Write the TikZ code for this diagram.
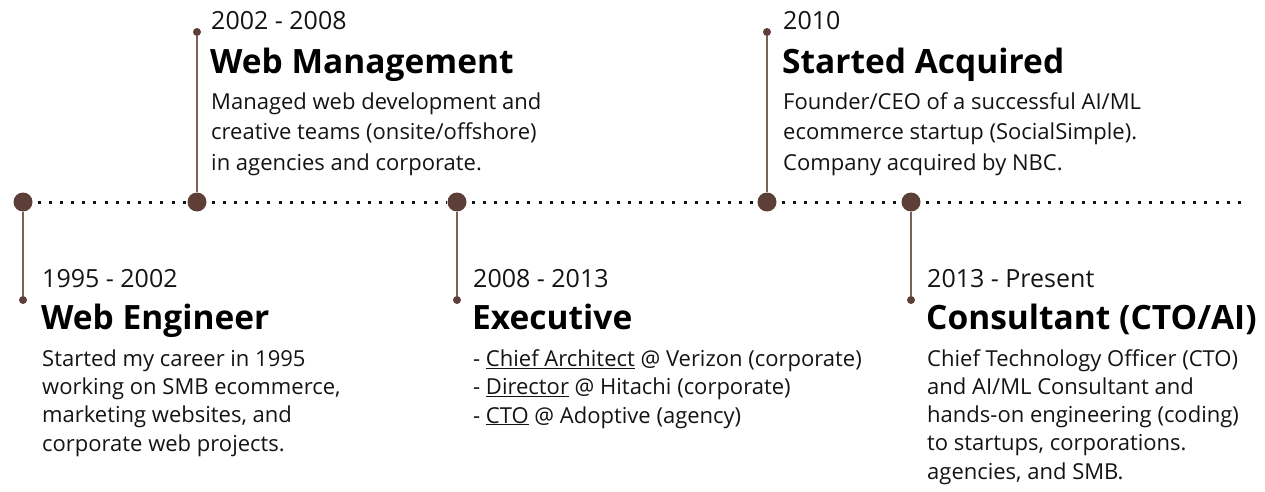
\documentclass[tikz,border=0pt]{standalone}
\usepackage{fontspec}
\setmainfont{Open Sans}
\definecolor{TLbrown}{RGB}{93,63,55}
\definecolor{TLstembrown}{RGB}{126,96,90}
\definecolor{TLink}{RGB}{20,20,20}
\tikzstyle{TLdot}=[circle, fill=TLbrown, inner sep=0pt, minimum size=19pt]
\tikzstyle{TLend}=[circle, fill=TLbrown, inner sep=0pt, minimum size=8pt]
\tikzstyle{TLstem}=[draw=TLstembrown, line width=2pt]
\tikzstyle{TLdots}=[draw=TLink, line width=3pt, dash pattern=on 3pt off 8.15pt, dash phase=-5pt]
\tikzstyle{TLdate}=[anchor=base west, inner sep=0pt, text=TLink, font=\fontsize{25}{30}\selectfont]
\tikzstyle{TLtitle}=[anchor=base west, inner sep=0pt, text=black, font=\fontsize{33.5}{40}\selectfont\bfseries]
% body nodes sit on the baseline of their last line
\tikzstyle{TLbody}=[anchor=base west, inner sep=0pt, align=left, text=TLink, font=\fontsize{22}{28.2}\selectfont]
\tikzstyle{TLbodytop}=[TLbody, font=\fontsize{22}{30.5}\selectfont]

\begin{document}
\begin{tikzpicture}[x=1pt, y=-1pt]
    \path [use as bounding box, fill=white] (0,0) rectangle (1265,492);
    % dots on the line
    \node [TLdot] (d1) at (23,202) {};
    \node [TLdot] (d2) at (197,202) {};
    \node [TLdot] (d3) at (457,202) {};
    \node [TLdot] (d4) at (767,202) {};
    \node [TLdot] (d5) at (911,202) {};
    \coordinate (lineend) at (1242,202);
    \foreach \a/\b in {d1/d2, d2/d3, d3/d4, d4/d5, d5/lineend}
        \draw [TLdots] (\a) -- (\b);
    % stem ends
    \node [TLend] (e1) at (23,300) {};
    \node [TLend] (e2) at (197,32) {};
    \node [TLend] (e3) at (457,300) {};
    \node [TLend] (e4) at (767,32) {};
    \node [TLend] (e5) at (911,300) {};
    \foreach \n in {1,...,5}
        \draw [TLstem] (d\n) -- (e\n);
    % 1995 - 2002
    \node [TLdate] (date1) at (42,287) {1995 - 2002};
    \node [TLtitle] (title1) at (41,329) {Web Engineer};
    \node [TLbody] (body1) at (42,451) {Started my career in 1995\\working on SMB ecommerce,\\marketing websites, and\\corporate web projects.};
    % 2002 - 2008
    \node [TLdate] (date2) at (211,30) {2002 - 2008};
    \node [TLtitle] (title2) at (210,74) {Web Management};
    \node [TLbodytop] (body2) at (211,170) {Managed web development and\\creative teams (onsite/offshore)\\in agencies and corporate.};
    % 2008 - 2013
    \node [TLdate] (date3) at (473,287) {2008 - 2013};
    \node [TLtitle] (title3) at (472,329) {Executive};
    \node [TLbody] (body3) at (473,423) {- \underline{Chief Architect} @ Verizon (corporate)\\- \underline{Director} @ Hitachi (corporate)\\- \underline{CTO} @ Adoptive (agency)};
    % 2010
    \node [TLdate] (date4) at (783,30) {2010};
    \node [TLtitle] (title4) at (782,74) {Started Acquired};
    \node [TLbodytop] (body4) at (783,170) {Founder/CEO of a successful AI/ML\\ecommerce startup (SocialSimple).\\Company acquired by NBC.};
    % 2013 - Present
    \node [TLdate] (date5) at (927,287) {2013 - Present};
    \node [TLtitle] (title5) at (926,329) {Consultant (CTO/AI)};
    \node [TLbody] (body5) at (927,479) {Chief Technology Officer (CTO)\\and AI/ML Consultant and\\hands-on engineering (coding)\\to startups, corporations.\\agencies, and SMB.};
\end{tikzpicture}
\end{document}
